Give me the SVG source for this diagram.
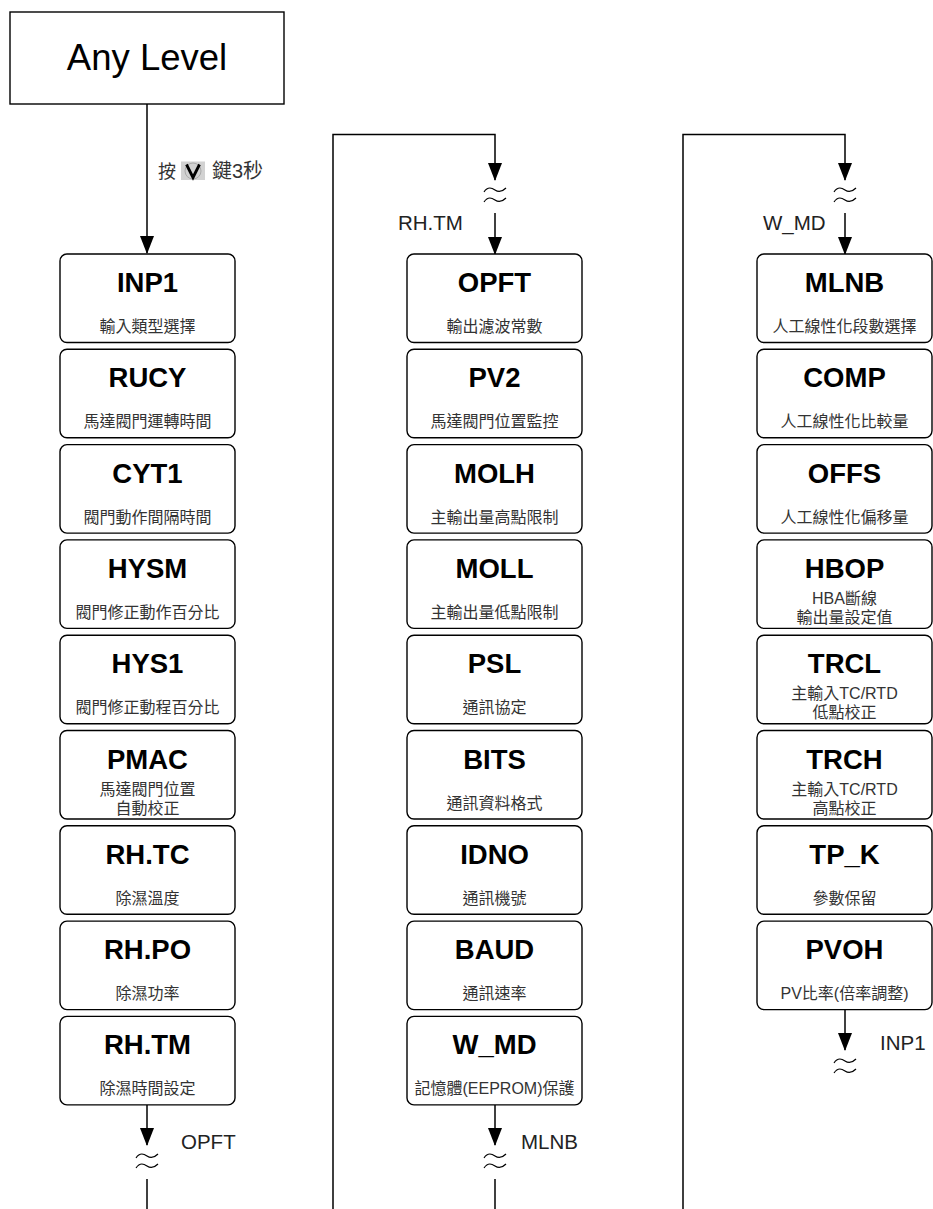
<svg xmlns="http://www.w3.org/2000/svg" width="933" height="1209" viewBox="0 0 933 1209">
<style>
.box{fill:#fff;stroke:#000;stroke-width:1.4}
.t{font-family:"Liberation Sans",Arial,sans-serif;font-weight:bold;font-size:27.5px;text-anchor:middle;fill:#000}
.s{font-family:"Liberation Sans","Noto Sans CJK TC",sans-serif;font-size:16px;text-anchor:middle;fill:#333}
.ln{fill:none;stroke:#000;stroke-width:1.5}
.lb{font-family:"Liberation Sans","Noto Sans CJK TC",sans-serif;font-size:20.5px;fill:#222}
.tl{fill:none;stroke:#000;stroke-width:1.2}
</style>
<defs>
<marker id="ah" markerUnits="userSpaceOnUse" viewBox="0 -7 18 14" refX="17" refY="0" markerWidth="18" markerHeight="14" orient="auto">
<path d="M0,-7 L18,0 L0,7 z" fill="#000"/>
</marker>
<g id="brk">
<path class="tl" d="M-11,13 C-7,7 -3,9 0,11 S7,13 11,9"/>
<path class="tl" d="M-11,23 C-7,17 -3,19 0,21 S7,23 11,19"/>
</g>
</defs>

<g id="any-level">
<rect x="10" y="12" width="274" height="92" fill="#fff" stroke="#000" stroke-width="1.4"/>
<text x="147" y="70" font-family="Liberation Sans,Arial,sans-serif" font-size="36.5" text-anchor="middle">Any Level</text>
</g>

<g id="connectors">
<line class="ln" x1="147" y1="104" x2="147" y2="253" marker-end="url(#ah)"/>
<g id="key-label">
<text x="158" y="178" font-family="Liberation Sans,Noto Sans CJK TC,sans-serif" font-size="18" fill="#333">按</text>
<rect x="181" y="161.5" width="24" height="18.5" fill="#d2d2d2"/>
<circle cx="193" cy="171" r="8" fill="none" stroke="#aaa" stroke-width="1"/>
<polyline points="186.5,164.5 193,177.5 199.5,164.5" fill="none" stroke="#000" stroke-width="2.8"/>
<text x="212" y="178" font-family="Liberation Sans,Noto Sans CJK TC,sans-serif" font-size="20" fill="#333">鍵3秒</text>
</g>
<!-- column 1 bottom -->
<line class="ln" x1="147" y1="1105" x2="147" y2="1145" marker-end="url(#ah)"/>
<use href="#brk" x="147" y="1145"/>
<line class="ln" x1="147" y1="1179" x2="147" y2="1209"/>
<text class="lb" x="181" y="1149">OPFT</text>
<!-- column 2 top -->
<polyline class="ln" points="333,1209 333,134.5 495,134.5 495,180" marker-end="url(#ah)"/>
<use href="#brk" x="495" y="179"/>
<line class="ln" x1="495" y1="213" x2="495" y2="254" marker-end="url(#ah)"/>
<text class="lb" x="398" y="230">RH.TM</text>
<!-- column 2 bottom -->
<line class="ln" x1="495" y1="1105" x2="495" y2="1145" marker-end="url(#ah)"/>
<use href="#brk" x="495" y="1145"/>
<line class="ln" x1="495" y1="1179" x2="495" y2="1209"/>
<text class="lb" x="521" y="1149">MLNB</text>
<!-- column 3 top -->
<polyline class="ln" points="683,1209 683,134.5 845,134.5 845,180" marker-end="url(#ah)"/>
<use href="#brk" x="845" y="179"/>
<line class="ln" x1="845" y1="213" x2="845" y2="254" marker-end="url(#ah)"/>
<text class="lb" x="763" y="230">W_MD</text>
<!-- column 3 bottom -->
<line class="ln" x1="845" y1="1010" x2="845" y2="1050" marker-end="url(#ah)"/>
<use href="#brk" x="845" y="1050"/>
<text class="lb" x="880" y="1050">INP1</text>
</g>

<!-- Column 1 -->
<g id="INP1" transform="translate(60,254)"><rect class="box" width="175" height="88.5" rx="7"/><text class="t" x="87.5" y="38">INP1</text><text class="s" x="87.5" y="78">輸入類型選擇</text></g>
<g id="RUCY" transform="translate(60,349.3)"><rect class="box" width="175" height="88.5" rx="7"/><text class="t" x="87.5" y="38">RUCY</text><text class="s" x="87.5" y="78">馬達閥門運轉時間</text></g>
<g id="CYT1" transform="translate(60,444.6)"><rect class="box" width="175" height="88.5" rx="7"/><text class="t" x="87.5" y="38">CYT1</text><text class="s" x="87.5" y="78">閥門動作間隔時間</text></g>
<g id="HYSM" transform="translate(60,539.9)"><rect class="box" width="175" height="88.5" rx="7"/><text class="t" x="87.5" y="38">HYSM</text><text class="s" x="87.5" y="78">閥門修正動作百分比</text></g>
<g id="HYS1" transform="translate(60,635.2)"><rect class="box" width="175" height="88.5" rx="7"/><text class="t" x="87.5" y="38">HYS1</text><text class="s" x="87.5" y="78">閥門修正動程百分比</text></g>
<g id="PMAC" transform="translate(60,730.5)"><rect class="box" width="175" height="88.5" rx="7"/><text class="t" x="87.5" y="38">PMAC</text><text class="s" x="87.5" y="64">馬達閥門位置</text><text class="s" x="87.5" y="83">自動校正</text></g>
<g id="RH.TC" transform="translate(60,825.8)"><rect class="box" width="175" height="88.5" rx="7"/><text class="t" x="87.5" y="38">RH.TC</text><text class="s" x="87.5" y="78">除濕溫度</text></g>
<g id="RH.PO" transform="translate(60,921.1)"><rect class="box" width="175" height="88.5" rx="7"/><text class="t" x="87.5" y="38">RH.PO</text><text class="s" x="87.5" y="78">除濕功率</text></g>
<g id="RH.TM" transform="translate(60,1016.4)"><rect class="box" width="175" height="88.5" rx="7"/><text class="t" x="87.5" y="38">RH.TM</text><text class="s" x="87.5" y="78">除濕時間設定</text></g>

<!-- Column 2 -->
<g id="OPFT" transform="translate(407,254)"><rect class="box" width="175" height="88.5" rx="7"/><text class="t" x="87.5" y="38">OPFT</text><text class="s" x="87.5" y="78">輸出濾波常數</text></g>
<g id="PV2" transform="translate(407,349.3)"><rect class="box" width="175" height="88.5" rx="7"/><text class="t" x="87.5" y="38">PV2</text><text class="s" x="87.5" y="78">馬達閥門位置監控</text></g>
<g id="MOLH" transform="translate(407,444.6)"><rect class="box" width="175" height="88.5" rx="7"/><text class="t" x="87.5" y="38">MOLH</text><text class="s" x="87.5" y="78">主輸出量高點限制</text></g>
<g id="MOLL" transform="translate(407,539.9)"><rect class="box" width="175" height="88.5" rx="7"/><text class="t" x="87.5" y="38">MOLL</text><text class="s" x="87.5" y="78">主輸出量低點限制</text></g>
<g id="PSL" transform="translate(407,635.2)"><rect class="box" width="175" height="88.5" rx="7"/><text class="t" x="87.5" y="38">PSL</text><text class="s" x="87.5" y="78">通訊協定</text></g>
<g id="BITS" transform="translate(407,730.5)"><rect class="box" width="175" height="88.5" rx="7"/><text class="t" x="87.5" y="38">BITS</text><text class="s" x="87.5" y="78">通訊資料格式</text></g>
<g id="IDNO" transform="translate(407,825.8)"><rect class="box" width="175" height="88.5" rx="7"/><text class="t" x="87.5" y="38">IDNO</text><text class="s" x="87.5" y="78">通訊機號</text></g>
<g id="BAUD" transform="translate(407,921.1)"><rect class="box" width="175" height="88.5" rx="7"/><text class="t" x="87.5" y="38">BAUD</text><text class="s" x="87.5" y="78">通訊速率</text></g>
<g id="W_MD" transform="translate(407,1016.4)"><rect class="box" width="175" height="88.5" rx="7"/><text class="t" x="87.5" y="38">W_MD</text><text class="s" x="87.5" y="78">記憶體(EEPROM)保護</text></g>

<!-- Column 3 -->
<g id="MLNB" transform="translate(757,254)"><rect class="box" width="175" height="88.5" rx="7"/><text class="t" x="87.5" y="38">MLNB</text><text class="s" x="87.5" y="78">人工線性化段數選擇</text></g>
<g id="COMP" transform="translate(757,349.3)"><rect class="box" width="175" height="88.5" rx="7"/><text class="t" x="87.5" y="38">COMP</text><text class="s" x="87.5" y="78">人工線性化比較量</text></g>
<g id="OFFS" transform="translate(757,444.6)"><rect class="box" width="175" height="88.5" rx="7"/><text class="t" x="87.5" y="38">OFFS</text><text class="s" x="87.5" y="78">人工線性化偏移量</text></g>
<g id="HBOP" transform="translate(757,539.9)"><rect class="box" width="175" height="88.5" rx="7"/><text class="t" x="87.5" y="38">HBOP</text><text class="s" x="87.5" y="64">HBA斷線</text><text class="s" x="87.5" y="83">輸出量設定值</text></g>
<g id="TRCL" transform="translate(757,635.2)"><rect class="box" width="175" height="88.5" rx="7"/><text class="t" x="87.5" y="38">TRCL</text><text class="s" x="87.5" y="64">主輸入TC/RTD</text><text class="s" x="87.5" y="83">低點校正</text></g>
<g id="TRCH" transform="translate(757,730.5)"><rect class="box" width="175" height="88.5" rx="7"/><text class="t" x="87.5" y="38">TRCH</text><text class="s" x="87.5" y="64">主輸入TC/RTD</text><text class="s" x="87.5" y="83">高點校正</text></g>
<g id="TP_K" transform="translate(757,825.8)"><rect class="box" width="175" height="88.5" rx="7"/><text class="t" x="87.5" y="38">TP_K</text><text class="s" x="87.5" y="78">參數保留</text></g>
<g id="PVOH" transform="translate(757,921.1)"><rect class="box" width="175" height="88.5" rx="7"/><text class="t" x="87.5" y="38">PVOH</text><text class="s" x="87.5" y="78">PV比率(倍率調整)</text></g>
</svg>
